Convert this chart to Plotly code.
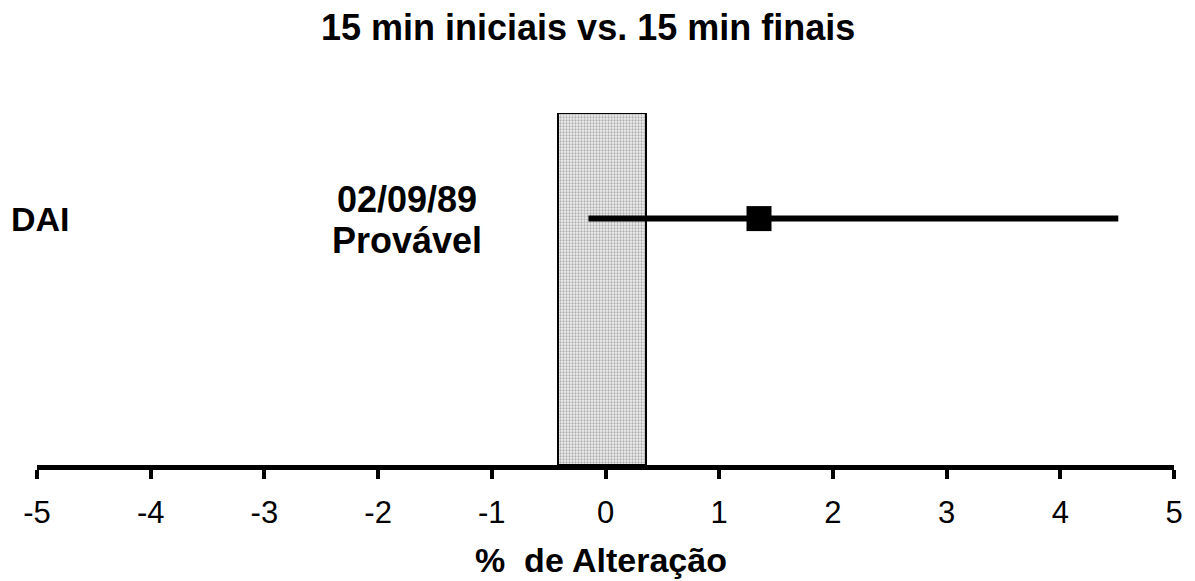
import plotly.graph_objects as go

# Data
category = "DAI"
category_note = ["02/09/89", "Provável"]
region_low, region_high = -0.415, 0.355    # shaded equivalence region
ci_low, ci_high = -0.15, 4.51              # confidence interval
estimate = 1.35                            # point estimate
tick_vals = [-5, -4, -3, -2, -1, 0, 1, 2, 3, 4, 5]
tick_text = [str(v) for v in tick_vals]
title_text = "15 min iniciais vs. 15 min finais"
xaxis_title = "%  de Alteração"

FONT = "Liberation Sans, Arial, sans-serif"
row_y = 0.70

fig = go.Figure()

# Shaded region (bar from region_low to region_high)
fig.add_trace(go.Bar(
    x=[region_high - region_low], y=[0.5], base=[region_low], width=[1.0],
    orientation="h",
    marker=dict(color="#e0e0e0",
                line=dict(color="black", width=2),
                pattern=dict(shape=".", fgcolor="#6e6e6e", bgcolor="#f0f0f0",
                             size=3, solidity=0.45)),
    hoverinfo="skip", showlegend=False,
))

# Confidence interval line
fig.add_trace(go.Scatter(
    x=[ci_low, ci_high], y=[row_y, row_y], mode="lines",
    line=dict(color="black", width=6), showlegend=False,
))

# Point estimate
fig.add_trace(go.Scatter(
    x=[estimate], y=[row_y], mode="markers",
    marker=dict(symbol="square", size=25, color="black"),
    showlegend=False,
))

fig.update_layout(
    width=1187, height=573,
    margin=dict(l=29, r=21, t=105, b=116),
    paper_bgcolor="white", plot_bgcolor="white",
    font=dict(family=FONT, color="black"),
    bargap=0,
    xaxis=dict(range=[-5, 5], tickvals=tick_vals, ticktext=tick_text,
               showgrid=False, zeroline=False, showline=True,
               linecolor="black", linewidth=5,
               ticks="outside", ticklen=9, tickwidth=4, tickcolor="black",
               ticklabelstandoff=7,
               tickfont=dict(size=31, family=FONT, color="black")),
    yaxis=dict(range=[0, 1], visible=False, fixedrange=True),
    annotations=[
        dict(text="<b>%s</b>" % title_text, xref="x", yref="paper",
             x=-0.15, y=1.0, yshift=86, yanchor="middle", showarrow=False,
             font=dict(size=36, family=FONT)),
        dict(text="<b>%s</b>" % category, xref="paper", yref="y",
             x=0, xshift=-28, y=row_y, xanchor="left", yanchor="middle",
             showarrow=False, font=dict(size=34, family=FONT)),
        dict(text="<b>%s</b>" % category_note[0], xref="x", yref="y",
             x=-1.75, y=row_y, yshift=19, yanchor="middle", showarrow=False,
             font=dict(size=36, family=FONT)),
        dict(text="<b>%s</b>" % category_note[1], xref="x", yref="y",
             x=-1.75, y=row_y, yshift=-22, yanchor="middle", showarrow=False,
             font=dict(size=36, family=FONT)),
        dict(text="<b>%s</b>" % xaxis_title, xref="x", yref="paper",
             x=-0.04, y=0, yshift=-95, yanchor="middle", showarrow=False,
             font=dict(size=34, family=FONT)),
    ],
)

fig.write_html("out.html")
